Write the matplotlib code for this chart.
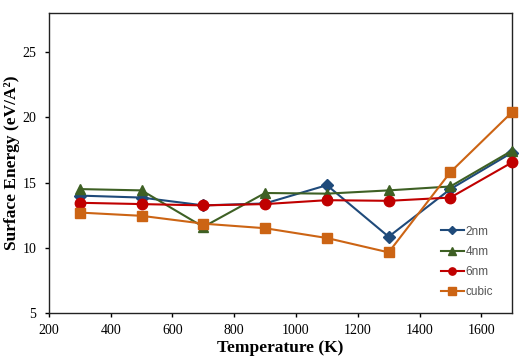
import matplotlib
matplotlib.use("Agg")
import matplotlib.pyplot as plt

temps = [300, 500, 700, 900, 1100, 1300, 1500, 1700]
e_2nm = [14.0, 13.85, 13.25, 13.4, 14.8, 10.85, 14.5, 17.3]
e_4nm = [14.5, 14.4, 11.6, 14.2, 14.15, 14.4, 14.7, 17.45]
e_6nm = [13.45, 13.35, 13.25, 13.35, 13.65, 13.6, 13.85, 16.55]
e_cubic = [12.7, 12.45, 11.85, 11.5, 10.75, 9.65, 15.8, 20.4]

series = [
    ("2nm", e_2nm, "#1F4A7A", "D", 6.0),
    ("4nm", e_4nm, "#3E6024", "^", 7.5),
    ("6nm", e_6nm, "#C00000", "o", 7.5),
    ("cubic", e_cubic, "#CC6414", "s", 7.5),
]

fig = plt.figure(figsize=(5.21, 3.59), dpi=100)
ax = fig.add_axes([0.094, 0.128, 0.889, 0.836])

for name, vals, col, mk, ms in series:
    ax.plot(temps, vals, color=col, marker=mk, markersize=ms, linewidth=1.5,
            label=name, clip_on=False, zorder=3)

ax.set_xlim(200, 1700)
ax.set_ylim(5, 28)
ax.set_xticks([200, 400, 600, 800, 1000, 1200, 1400, 1600])
ax.set_yticks([5, 10, 15, 20, 25])

for sp in ax.spines.values():
    sp.set_linewidth(1.0)
    sp.set_color("#222222")

ax.tick_params(direction="out", length=3, width=1, labelsize=10)
ax.tick_params(axis="y", pad=6)
ax.tick_params(axis="x", pad=5)
for lab in ax.get_xticklabels() + ax.get_yticklabels():
    lab.set_fontfamily("Liberation Serif")

ax.set_xlabel("Temperature (K)", fontfamily="Liberation Serif", fontweight="bold",
              fontsize=12.5, labelpad=2)
ax.set_ylabel("Surface Energy (eV/A²)", fontfamily="Liberation Serif",
              fontweight="bold", fontsize=12.5, labelpad=2)

leg = ax.legend(loc="upper left", bbox_to_anchor=(0.823, 0.327), frameon=False,
                handlelength=1.95, handletextpad=0.15, labelspacing=0.7,
                prop={"family": "Liberation Sans", "size": 8.5}, markerscale=0.7)
for t in leg.get_texts():
    t.set_color("#555555")

fig.savefig("out.png", dpi=100)
